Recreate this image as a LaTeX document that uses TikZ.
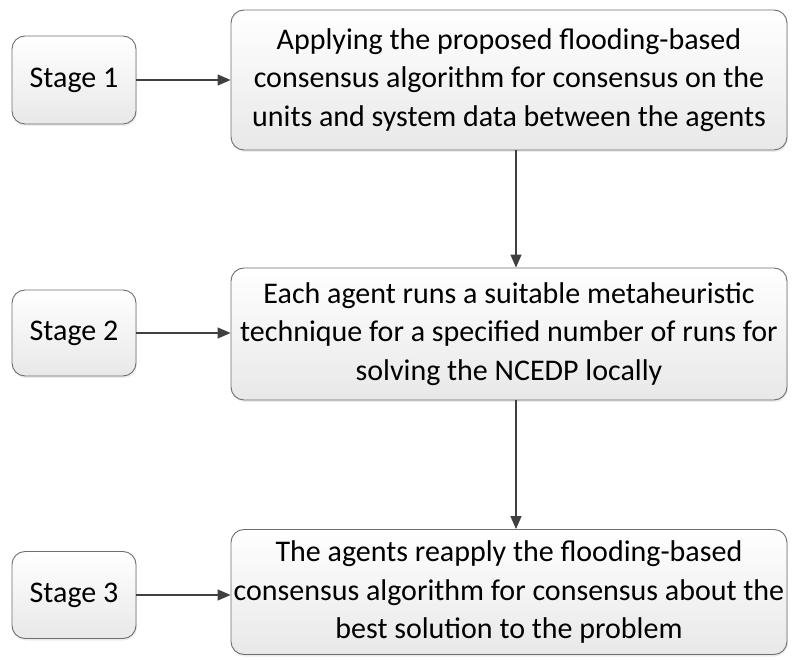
\documentclass[tikz,border=0pt]{standalone}
\usepackage{fontspec}
\setmainfont{Carlito}
\usetikzlibrary{arrows.meta,shadows}
\definecolor{edgec}{HTML}{6E6E6E}
\definecolor{arrc}{HTML}{404040}
\tikzset{
  box/.style={draw=edgec, line width=0.9pt, rounded corners=13pt,
    top color=white, bottom color=black!9, align=center,
    font=\fontsize{30}{38.5}\selectfont, inner sep=0pt,
    drop shadow={shadow xshift=1pt, shadow yshift=-2pt, fill=black!12, opacity=0.6}},
  link/.style={draw=arrc, line width=1.3pt, -{Triangle[length=13pt,width=11pt]}}
}
\begin{document}
\begin{tikzpicture}[x=1pt,y=-1pt]
\useasboundingbox (0,0) rectangle (793,660);
\node[box, minimum width=124pt, minimum height=88pt] (s1) at (74,80) {Stage 1};
\node[box, minimum width=124pt, minimum height=86pt] (s2) at (74,333) {Stage 2};
\node[box, minimum width=124pt, minimum height=87pt] (s3) at (74,595) {Stage 3};
\node[box, minimum width=556pt, minimum height=140pt] (b1) at (509,80)
  {Applying the proposed flooding-based\\consensus algorithm for consensus on the\\units and system data between the agents};
\node[box, minimum width=556pt, minimum height=132pt] (b2) at (509,334)
  {Each agent runs a suitable metaheuristic\\technique for a specified number of runs for\\solving the NCEDP locally};
\node[box, minimum width=556pt, minimum height=125pt] (b3) at (509,592)
  {The agents reapply the flooding-based\\consensus algorithm for consensus about the\\best solution to the problem};
\draw[link] (s1) -- (b1.west |- s1);
\draw[link] (s2) -- (b2.west |- s2);
\draw[link] (s3) -- (b3.west |- s3);
\draw[link] (b1.south -| 516,0) -- (b2.north -| 516,0);
\draw[link] (b2.south -| 516,0) -- (b3.north -| 516,0);
\end{tikzpicture}
\end{document}
